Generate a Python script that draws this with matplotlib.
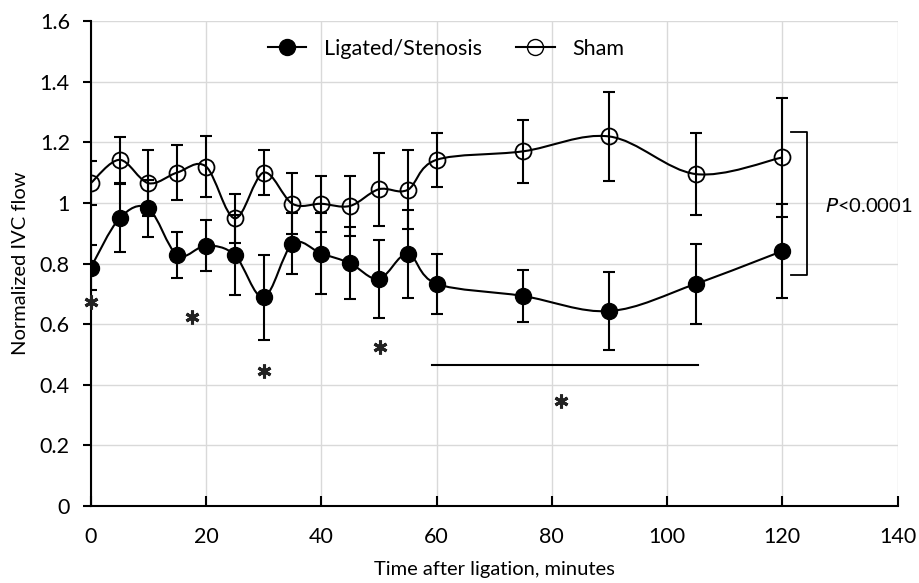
import matplotlib
matplotlib.use("Agg")
import matplotlib.pyplot as plt
from matplotlib.path import Path
from matplotlib.patches import PathPatch
from matplotlib.lines import Line2D

plt.rcParams['font.family'] = ['Lato', 'DejaVu Sans']

# data
minutes = [0, 5, 10, 15, 20, 25, 30, 35, 40, 45, 50, 55, 60, 75, 90, 105, 120]
ligated = [0.786, 0.949, 0.982, 0.828, 0.859, 0.828, 0.688, 0.865, 0.833, 0.801,
           0.749, 0.832, 0.733, 0.693, 0.643, 0.733, 0.841]
ligated_err = [0.075, 0.112, 0.094, 0.075, 0.085, 0.133, 0.14, 0.10, 0.135, 0.118,
               0.13, 0.146, 0.10, 0.085, 0.128, 0.133, 0.155]
sham = [1.065, 1.142, 1.065, 1.10, 1.12, 0.949, 1.10, 0.997, 0.997, 0.99,
        1.045, 1.043, 1.142, 1.17, 1.219, 1.095, 1.15]
sham_err = [0.072, 0.076, 0.108, 0.09, 0.10, 0.08, 0.074, 0.10, 0.092, 0.10,
            0.12, 0.13, 0.09, 0.105, 0.148, 0.135, 0.195]

star_x = [0, 17.5, 30, 50.2, 81.6]
star_y = [0.673, 0.623, 0.446, 0.525, 0.347]


def smooth_path(xs, ys):
    # Excel-like smoothed line: cubic bezier with catmull-rom tangents
    pts = list(zip(xs, ys))
    verts = [pts[0]]
    codes = [Path.MOVETO]
    n = len(pts)
    for i in range(n - 1):
        p0 = pts[i - 1] if i > 0 else pts[i]
        p1 = pts[i]
        p2 = pts[i + 1]
        p3 = pts[i + 2] if i + 2 < n else pts[i + 1]
        c1 = (p1[0] + (p2[0] - p0[0]) / 6, p1[1] + (p2[1] - p0[1]) / 6)
        c2 = (p2[0] - (p3[0] - p1[0]) / 6, p2[1] - (p3[1] - p1[1]) / 6)
        verts += [c1, c2, p2]
        codes += [Path.CURVE4] * 3
    return Path(verts, codes)


fig = plt.figure(figsize=(9.19, 5.83), dpi=100)
ax = fig.add_axes([0.0987, 0.132, 0.878, 0.832])

for ys in (ligated, sham):
    ax.add_patch(PathPatch(smooth_path(minutes, ys), fill=False, lw=1.5,
                           edgecolor='black', zorder=3))

ax.errorbar(minutes, ligated, yerr=ligated_err, fmt='none', ecolor='black',
            elinewidth=1.5, capsize=4, capthick=1.5, zorder=2)
ax.errorbar(minutes, sham, yerr=sham_err, fmt='none', ecolor='black',
            elinewidth=1.5, capsize=4, capthick=1.5, zorder=2)
ax.plot(minutes, ligated, 'o', ms=11.5, mfc='black', mec='black', zorder=4)
ax.plot(minutes, sham, 'o', ms=11.5, mfc='none', mec='black', mew=1.3, zorder=4)

# significance marks
ax.plot(star_x, star_y, ls='none', marker=(6, 2, 0), ms=10, mew=2.2,
        color='#222222', zorder=5, clip_on=False)
ax.plot([59.2, 105.3], [0.465, 0.465], color='black', lw=1.5)
ax.plot([121.5, 124.3, 124.3, 121.5], [1.235, 1.235, 0.763, 0.763],
        color='black', lw=1.3, clip_on=False)
ax.text(127.4, 0.99, r'$\it{P}$<0.0001', ha='left', va='center', fontsize=14.5)

ax.set_xlim(0, 140)
ax.set_ylim(0, 1.6)
ax.set_xticks(range(0, 141, 20))
ax.set_yticks([0, 0.2, 0.4, 0.6, 0.8, 1, 1.2, 1.4, 1.6])
ax.set_yticklabels(['0', '0.2', '0.4', '0.6', '0.8', '1', '1.2', '1.4', '1.6'])
ax.grid(True, color='#d9d9d9', lw=1.0)
ax.set_axisbelow(True)
for s in ('top', 'right'):
    ax.spines[s].set_visible(False)
for s in ('left', 'bottom'):
    ax.spines[s].set_linewidth(1.5)
ax.tick_params(axis='x', direction='in', length=7, width=1.5, pad=15, labelsize=15.5)
ax.tick_params(axis='y', direction='out', length=6, width=1.5, pad=9, labelsize=15.5)
ax.set_xlabel('Time after ligation, minutes', fontsize=14.5, labelpad=10)
ax.set_ylabel('Normalized IVC flow', fontsize=14.5, labelpad=8)

handles = [
    Line2D([], [], color='black', lw=1.5, marker='o', ms=11.5, mfc='black'),
    Line2D([], [], color='black', lw=1.5, marker='o', ms=11.5, mfc='none'),
]
ax.legend(handles, ['Ligated/Stenosis', 'Sham'], loc='center',
          bbox_to_anchor=(0.44, 0.943), ncol=2, frameon=False, fontsize=15.5,
          handlelength=1.8, columnspacing=1.6, handletextpad=0.8)

fig.savefig('out.png', dpi=100)
